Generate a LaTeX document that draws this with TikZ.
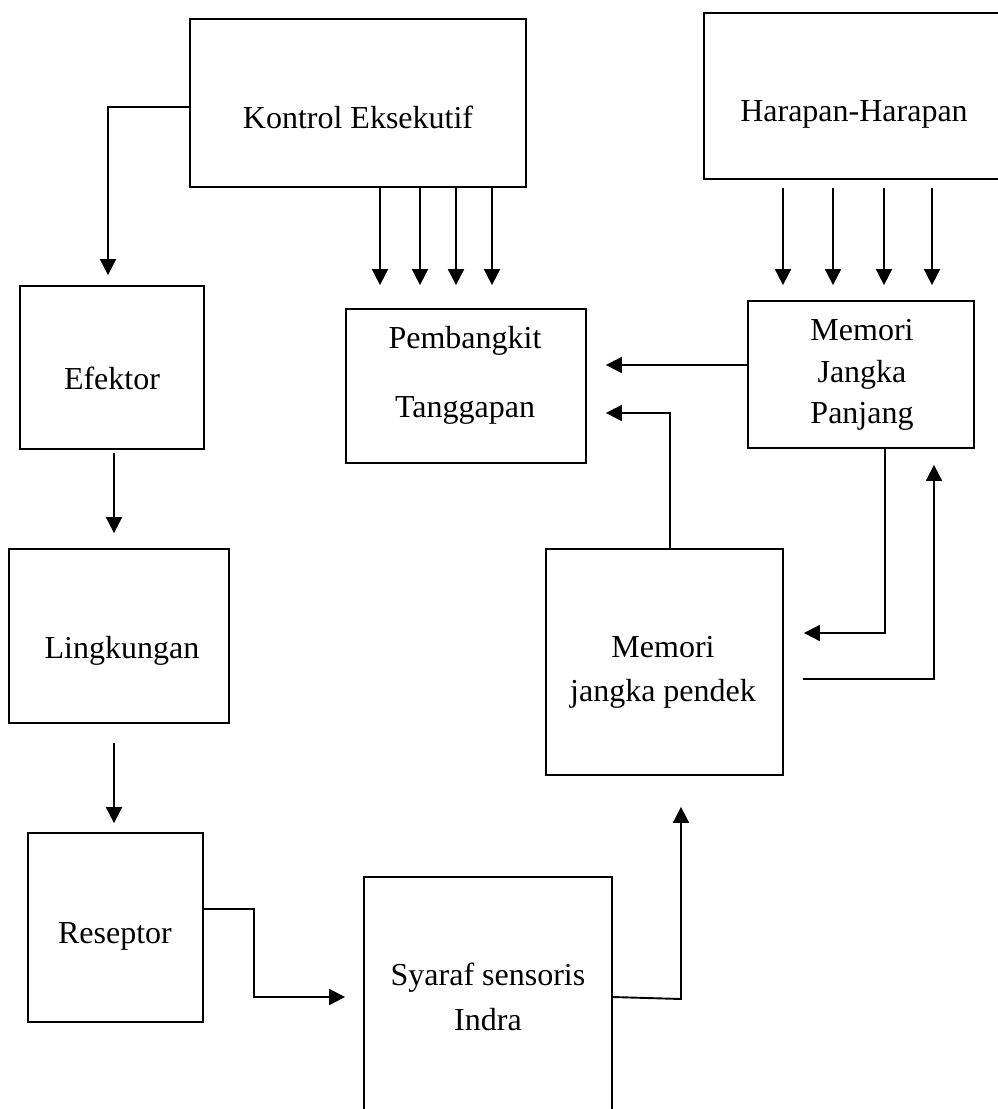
\documentclass[tikz,border=0pt]{standalone}
\usepackage{fontspec}
\setmainfont{Liberation Serif}
\usetikzlibrary{arrows.meta}
\begin{document}
\begin{tikzpicture}[x=1pt,y=-1pt,
  box/.style={draw, rectangle, line width=1.8pt, inner sep=0pt},
  lbl/.style={inner sep=0pt, align=center},
  arr/.style={line width=1.9pt, -{Triangle[width=16pt,length=16pt]}},
]
\fill[white] (0,0) rectangle (998,1109);
\useasboundingbox (0,0) rectangle (998,1109);

% boxes
\node[box, minimum width=336pt, minimum height=168pt] (kontrol)    at (358,103)    {};
\node[box, minimum width=300pt, minimum height=166pt] (harapan)    at (854,96)     {};
\node[box, minimum width=184pt, minimum height=163pt] (efektor)    at (112,367.5)  {};
\node[box, minimum width=240pt, minimum height=154pt] (pembangkit) at (466,386)    {};
\node[box, minimum width=226pt, minimum height=147pt] (mjp)        at (861,374.5)  {};
\node[box, minimum width=220pt, minimum height=174pt] (lingkungan) at (119,636)    {};
\node[box, minimum width=237pt, minimum height=226pt] (mpendek)    at (664.5,662)  {};
\node[box, minimum width=175pt, minimum height=189pt] (reseptor)   at (115.5,927.5){};
\node[box, minimum width=248pt, minimum height=250pt] (syaraf)     at (488,1002)   {};

% labels
\node[lbl, font=\fontsize{32}{38}\selectfont] (kontrol-t)    at (358,117)   {Kontrol Eksekutif};
\node[lbl, font=\fontsize{32}{38}\selectfont] (harapan-t)    at (854,114.5) {Harapan-Harapan};
\node[lbl, font=\fontsize{32}{38}\selectfont] (efektor-t)    at (112,378)   {Efektor};
\node[lbl, font=\fontsize{32}{69}\selectfont] (pembangkit-t) at (465,375)   {Pembangkit\\Tanggapan};
\node[lbl, font=\fontsize{32}{41.5}\selectfont] (mjp-t)      at (862,375)   {Memori\\Jangka\\Panjang};
\node[lbl, font=\fontsize{32}{38}\selectfont] (lingkungan-t) at (122,650.5) {Lingkungan};
\node[lbl, font=\fontsize{32}{44}\selectfont] (mpendek-t)    at (663,672.5) {Memori\\jangka pendek};
\node[lbl, font=\fontsize{32}{38}\selectfont] (reseptor-t)   at (115,936.5) {Reseptor};
\node[lbl, font=\fontsize{32}{45}\selectfont] (syaraf-t)     at (488,996.5) {Syaraf sensoris\\Indra};

% executive control to effector
\draw[arr, shorten >=10pt] ([yshift=-4pt]kontrol.west) -| (efektor.north -| 108,0);

% executive control to response generator
\foreach \x in {380,420,456,492}
  \draw[arr, shorten >=23pt] (kontrol.south -| \x,0) -- (pembangkit.north -| \x,0);

% expectations to long-term memory
\foreach \x in {783,833,884,932}
  \draw[arr, shorten <=8pt, shorten >=15pt] (harapan.south -| \x,0) -- (mjp.north -| \x,0);

% long-term memory to response generator
\draw[arr, shorten >=19pt] ([yshift=9.5pt]mjp.west) -- ([yshift=9.5pt]mjp.west -| pembangkit.east);

% short-term memory to response generator
\draw[arr, shorten >=19pt] (mpendek.north -| 670,0) |- (pembangkit.east |- 0,413);

% long-term <-> short-term memory
\draw[arr, shorten >=20pt] (mjp.south -| 885,0) |- (mpendek.east |- 0,633);
\draw[arr, shorten <=19pt, shorten >=16pt] (mpendek.east |- 0,679) -| (mjp.south -| 934,0);

% effector -> environment -> receptor
\draw[arr, shorten <=3pt, shorten >=15pt] (efektor.south -| 114,0) -- (lingkungan.north -| 114,0);
\draw[arr, shorten <=19pt, shorten >=9pt] (lingkungan.south -| 114,0) -- (reseptor.north -| 114,0);

% receptor -> sensory nerves
\draw[arr, shorten >=18pt] (reseptor.east |- 0,909) -- (254,909) -- (254,997) -- (syaraf.west |- 0,997);

% sensory nerves -> short-term memory
\draw[arr, shorten >=31pt] (syaraf.east |- 0,997) -- (681,999) -- (mpendek.south -| 681,0);
\end{tikzpicture}
\end{document}
